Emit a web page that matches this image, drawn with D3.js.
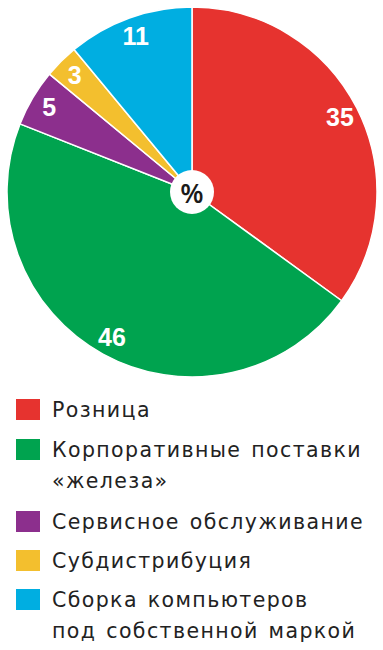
<!DOCTYPE html>
<html><head><meta charset="utf-8">
<script src="https://cdn.jsdelivr.net/npm/d3@7"></script>
<style>
html,body{margin:0;padding:0;background:#fff;}
svg{display:block;}
</style></head>
<body>
<svg id="chart" width="383" height="650"></svg>
<script>
const categories = ["Розница", "Корпоративные поставки «железа»", "Сервисное обслуживание", "Субдистрибуция", "Сборка компьютеров под собственной маркой"];
const legendLines = [["Розница"], ["Корпоративные поставки", "«железа»"], ["Сервисное обслуживание"], ["Субдистрибуция"], ["Сборка компьютеров", "под собственной маркой"]];
const values = [35, 46, 5, 3, 11];
const colors = ["#E6332F", "#00A34F", "#8C2F8D", "#F3BF2E", "#00AEE1"];

const svg = d3.select("#chart");
const cx = 192, cy = 192, R = 185;
const data = categories.map((c, i) => ({cat: c, value: values[i], color: colors[i]}));

const pie = d3.pie().value(d => d.value).sort(null);
const arcs = pie(data);
const arc = d3.arc().innerRadius(0).outerRadius(R);
const labelArc = d3.arc().innerRadius(166).outerRadius(166);

const g = svg.append("g").attr("transform", `translate(${cx},${cy})`);
g.selectAll("path.slice").data(arcs).join("path")
  .attr("class", "slice")
  .attr("d", arc)
  .attr("fill", d => d.data.color)
  .attr("stroke", "#fff")
  .attr("stroke-width", 1.5)
  .attr("stroke-linejoin", "round");

g.selectAll("text.val").data(arcs).join("text")
  .attr("class", "val")
  .attr("transform", d => `translate(${labelArc.centroid(d)})`)
  .attr("text-anchor", "middle")
  .attr("dy", "0.36em")
  .attr("fill", "#fff")
  .attr("font-family", "'Liberation Sans', Arial, sans-serif")
  .attr("font-weight", "bold")
  .attr("font-size", 25)
  .text(d => d.data.value);

g.append("circle").attr("r", 22).attr("fill", "#fff");
g.append("text").attr("text-anchor", "middle").attr("y", 1).attr("dy", "0.36em")
  .attr("font-family", "'Open Sans', sans-serif").attr("font-weight", "600")
  .attr("font-size", 27).attr("fill", "#1a1a1a").text("%");

// Legend
const baselines = [417, 457, 529, 568, 607];
const lineGap = 31;
const lg = svg.append("g");
const items = lg.selectAll("g.item").data(data).join("g").attr("class", "item");
items.append("rect")
  .attr("x", 16).attr("y", (d, i) => baselines[i] - 18)
  .attr("width", 24).attr("height", 21)
  .attr("fill", d => d.color);
items.each(function(d, i) {
  const t = d3.select(this).append("text")
    .attr("font-family", "'DejaVu Sans', sans-serif")
    .attr("font-size", 20.5)
    .attr("letter-spacing", 1.4)
    .attr("word-spacing", 2)
    .attr("fill", "#222");
  legendLines[i].forEach((ln, j) => {
    t.append("tspan").attr("x", 52).attr("y", baselines[i] + j * lineGap).text(ln);
  });
});
</script>
</body></html>
